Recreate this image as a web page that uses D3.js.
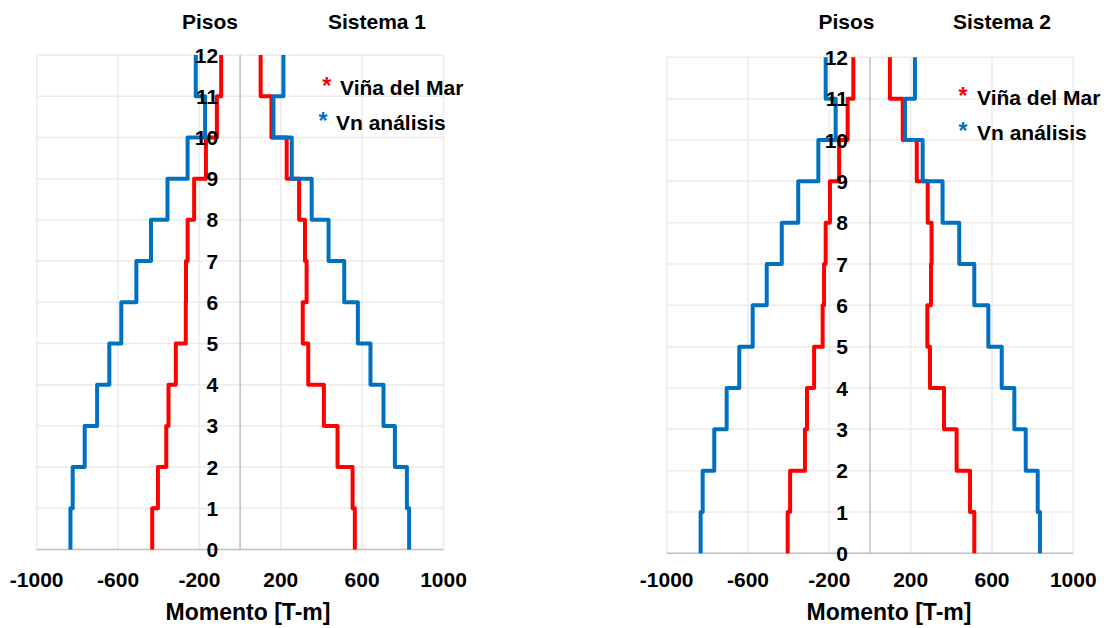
<!DOCTYPE html>
<html><head><meta charset="utf-8">
<script src="https://cdn.jsdelivr.net/npm/d3@7"></script>
<style>
html,body{margin:0;padding:0;background:#fff;}
svg text{font-family:"Liberation Sans",Arial,sans-serif;font-weight:bold;fill:#000;}
</style></head><body>
<svg id="c" width="1112" height="628"></svg>
<script>
// floors (interval i -> floor i to i+1)
const floors = [0,1,2,3,4,5,6,7,8,9,10,11,12];
const xTicks = [-1000,-600,-200,200,600,1000];
const seriesNames = ["Viña del Mar","Vn análisis"];
const seriesColors = ["#FF0000","#0070C0"];
const chartTitles = ["Sistema 1","Sistema 2"];
const yTitle = "Pisos";
const xTitle = "Momento [T-m]";

// Sistema 1 — values per storey interval 0-1 ... 11-12
const s1RedNeg  = [-432,-404,-363,-352,-316,-267,-266,-258,-226,-168,-114,-93];
const s1RedPos  = [564,553,479,412,335,308,327,319,290,229,154,101];
const s1BlueNeg = [-834,-823,-764,-703,-643,-584,-510,-438,-357,-258,-172,-218];
const s1BluePos = [831,820,761,705,641,579,512,435,352,254,164,213];
// Sistema 2
const s2RedNeg  = [-405,-393,-320,-310,-275,-233,-226,-218,-197,-152,-110,-82];
const s2RedPos  = [513,492,426,364,295,282,300,303,284,230,161,98];
const s2BlueNeg = [-833,-823,-766,-705,-643,-577,-508,-434,-353,-254,-169,-218];
const s2BluePos = [836,825,766,710,648,582,513,439,357,259,172,221];

const svg = d3.select("#c");

function stepPoints(vals){
  const pts = [];
  vals.forEach((v,i)=>{ pts.push([v,floors[i]]); pts.push([v,floors[i+1]]); });
  return pts;
}

function drawChart(cfg){
  const g = svg.append("g");
  const x = d3.scaleLinear().domain([-1000,1000]).range([cfg.x0,cfg.x1]);
  const y = d3.scaleLinear().domain([0,12]).range([cfg.y0,cfg.y1]);
  const grid = "#EBEBEB";
  g.selectAll(".hg").data(floors.slice(1)).enter().append("line")
    .attr("x1",x(-1000)).attr("x2",x(1000)).attr("y1",d=>y(d)).attr("y2",d=>y(d))
    .attr("stroke",grid).attr("stroke-width",1.5);
  g.selectAll(".vg").data(xTicks).enter().append("line")
    .attr("x1",d=>x(d)).attr("x2",d=>x(d)).attr("y1",y(0)).attr("y2",y(12))
    .attr("stroke",grid).attr("stroke-width",1.5);
  g.append("line").attr("x1",x(-1000)).attr("x2",x(1000)).attr("y1",y(0)).attr("y2",y(0))
    .attr("stroke","#BFBFBF").attr("stroke-width",1.5);
  g.append("line").attr("x1",x(0)).attr("x2",x(0)).attr("y1",y(0)).attr("y2",y(12))
    .attr("stroke","#BFBFBF").attr("stroke-width",1.5);

  const line = d3.line().x(d=>x(d[0])).y(d=>y(d[1]));
  cfg.series.forEach(s=>{
    g.append("path").attr("d",line(stepPoints(s.vals))).attr("fill","none")
      .attr("stroke",s.color).attr("stroke-width",4).attr("stroke-linejoin","round").attr("stroke-linecap","butt");
  });

  g.selectAll(".fl").data(floors).enter().append("text")
    .attr("x",x(0)-22).attr("y",d=>y(d)).attr("dy","0.36em")
    .attr("text-anchor","end").attr("font-size",21).text(d=>d);
  g.selectAll(".xl").data(xTicks).enter().append("text")
    .attr("x",d=>x(d)).attr("y",587).attr("text-anchor","middle").attr("font-size",21).text(d=>d);
  g.append("text").attr("x",cfg.xTitleX).attr("y",620).attr("text-anchor","middle")
    .attr("font-size",23).text(xTitle);
  g.append("text").attr("x",cfg.pisosX).attr("y",29).attr("text-anchor","middle").attr("font-size",21).text(yTitle);
  g.append("text").attr("x",cfg.titleX).attr("y",29).attr("text-anchor","middle").attr("font-size",21).text(cfg.title);
  seriesNames.forEach((n,i)=>{
    const lg = cfg.legend[i];
    g.append("text").attr("x",lg.ax).attr("y",lg.by-1).attr("text-anchor","middle")
      .attr("font-size",23).style("fill",seriesColors[i]).text("*");
    g.append("text").attr("x",lg.tx).attr("y",lg.by).attr("font-size",21).text(n);
  });
}

drawChart({x0:36.7,x1:443.5,y0:549.5,y1:55,title:chartTitles[0],pisosX:210,titleX:377,xTitleX:248,
  legend:[{ax:326.7,tx:340,by:95},{ax:323,tx:336,by:130}],
  series:[{vals:s1RedNeg,color:seriesColors[0]},{vals:s1RedPos,color:seriesColors[0]},
          {vals:s1BlueNeg,color:seriesColors[1]},{vals:s1BluePos,color:seriesColors[1]}]});
drawChart({x0:666.7,x1:1073.3,y0:553.3,y1:57.3,title:chartTitles[1],pisosX:846.5,titleX:1002,xTitleX:889,
  legend:[{ax:963,tx:977,by:105},{ax:963,tx:977,by:140}],
  series:[{vals:s2RedNeg,color:seriesColors[0]},{vals:s2RedPos,color:seriesColors[0]},
          {vals:s2BlueNeg,color:seriesColors[1]},{vals:s2BluePos,color:seriesColors[1]}]});
</script></body></html>
